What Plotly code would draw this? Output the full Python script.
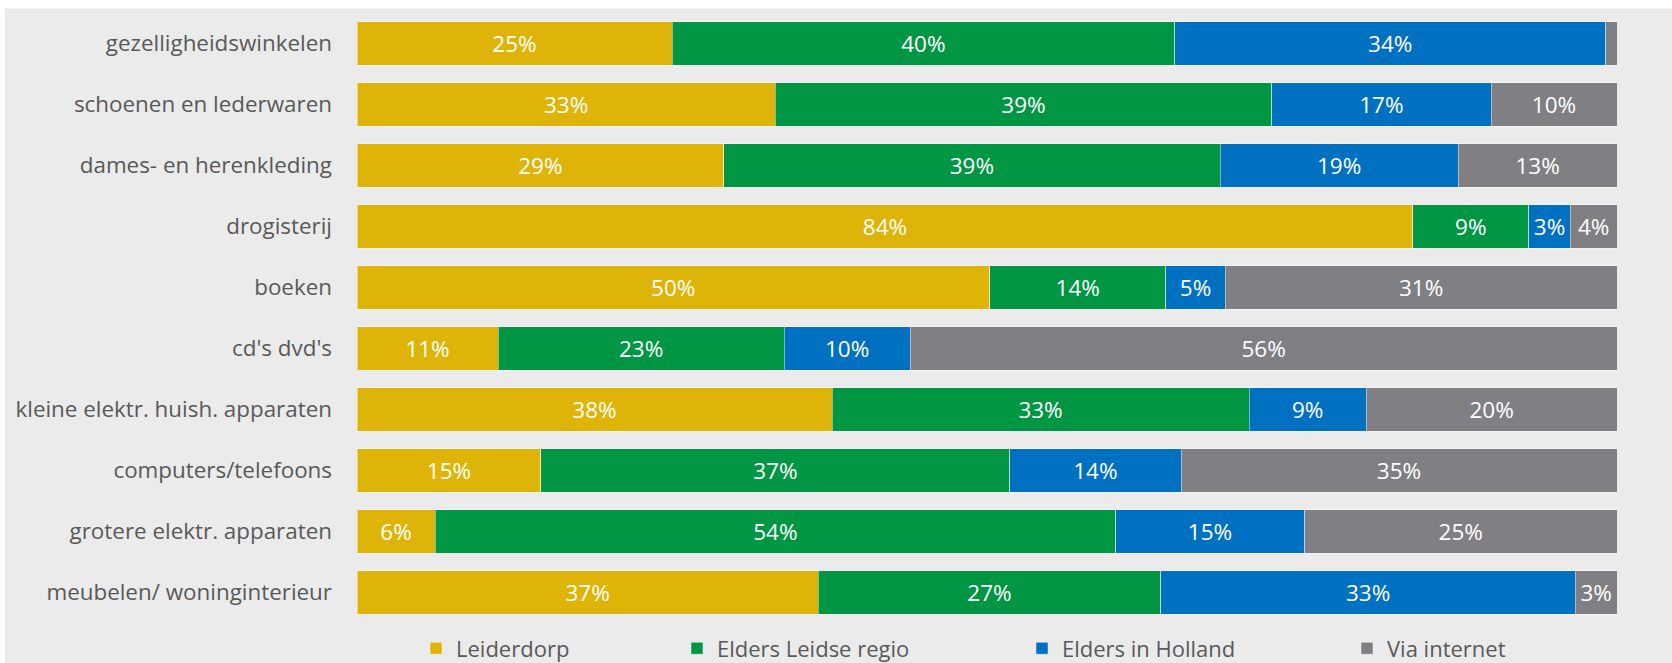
import plotly.graph_objects as go

categories = [
    "gezelligheidswinkelen",
    "schoenen en lederwaren",
    "dames- en herenkleding",
    "drogisterij",
    "boeken",
    "cd's dvd's",
    "kleine elektr. huish. apparaten",
    "computers/telefoons",
    "grotere elektr. apparaten",
    "meubelen/ woninginterieur",
]

leiderdorp = [25.0, 33.2, 29.1, 83.8, 50.2, 11.2, 37.7, 14.6, 6.2, 36.6]
elders_leidse_regio = [39.9, 39.4, 39.4, 9.2, 14.0, 22.7, 33.1, 37.2, 54.0, 27.2]
elders_in_holland = [34.2, 17.4, 18.9, 3.3, 4.7, 10.0, 9.3, 13.6, 15.0, 32.9]
via_internet = [0.9, 10.0, 12.6, 3.7, 31.1, 56.1, 19.9, 34.6, 24.8, 3.3]

series_names = ["Leiderdorp", "Elders Leidse regio", "Elders in Holland", "Via internet"]
series_values = [leiderdorp, elders_leidse_regio, elders_in_holland, via_internet]
series_colors = ["#DEB408", "#009643", "#0070C0", "#7F7F84"]

# geometry (pixels) of the reference
W, H = 1672, 663
L, R = 357, 1617
T, B = 12.5, 623.5
FONT = "Open Sans"

fig = go.Figure()

# legend marker positions (px) for separate legends
legend_px = [432, 693, 1038, 1363]
legend_names = ["legend", "legend2", "legend3", "legend4"]

for name, vals, col, lg in zip(series_names, series_values, series_colors, legend_names):
    labels = [f"{v:.0f}%" if v >= 2 else "" for v in vals]
    fig.add_trace(go.Bar(
        y=categories,
        x=vals,
        name=name,
        orientation="h",
        marker=dict(color=col, line=dict(color="rgba(255,255,255,0.45)", width=1)),
        text=labels,
        textposition="inside",
        insidetextanchor="middle",
        textangle=0,
        textfont=dict(color="white", size=22.5, family=FONT),
        hoverinfo="skip",
        legend=lg,
    ))

pw = R - L
ph = B - T

def px_to_paper_x(px):
    return (px - L) / pw

def px_to_paper_y(py):
    return (B - py) / ph

layout_legends = {}
for lg, px in zip(legend_names, legend_px):
    layout_legends[lg] = dict(
        x=px_to_paper_x(px - 16),
        xanchor="left",
        y=px_to_paper_y(649),
        yanchor="middle",
        orientation="h",
        bgcolor="rgba(0,0,0,0)",
        borderwidth=0,
        font=dict(family=FONT, size=22, color="#595959"),
        itemclick=False,
        itemdoubleclick=False,
    )

fig.update_layout(
    width=W,
    height=H,
    barmode="stack",
    bargap=0.285,
    margin=dict(l=L, r=W - R, t=T, b=H - B, pad=0, autoexpand=False),
    paper_bgcolor="white",
    plot_bgcolor="rgba(0,0,0,0)",
    font=dict(family=FONT, size=22, color="#595959"),
    uniformtext=dict(minsize=22.5, mode="show"),
    showlegend=True,
    xaxis=dict(range=[0, 100], visible=False, fixedrange=True),
    yaxis=dict(
        autorange="reversed",
        showgrid=False,
        zeroline=False,
        showline=False,
        ticks="",
        ticklabelstandoff=24,
        tickfont=dict(family=FONT, size=22.4, color="#595959"),
        fixedrange=True,
    ),
    shapes=[dict(
        type="rect",
        xref="paper", yref="paper",
        x0=px_to_paper_x(5), x1=px_to_paper_x(W + 20),
        y0=px_to_paper_y(H + 20), y1=px_to_paper_y(8),
        fillcolor="#EBEBEB",
        line=dict(width=0),
        layer="below",
    )],
    **layout_legends,
)

fig.write_html(
    "out.html",
    config={"displayModeBar": False},
    post_script="document.body.style.margin='0';document.body.style.overflow='hidden';",
)
